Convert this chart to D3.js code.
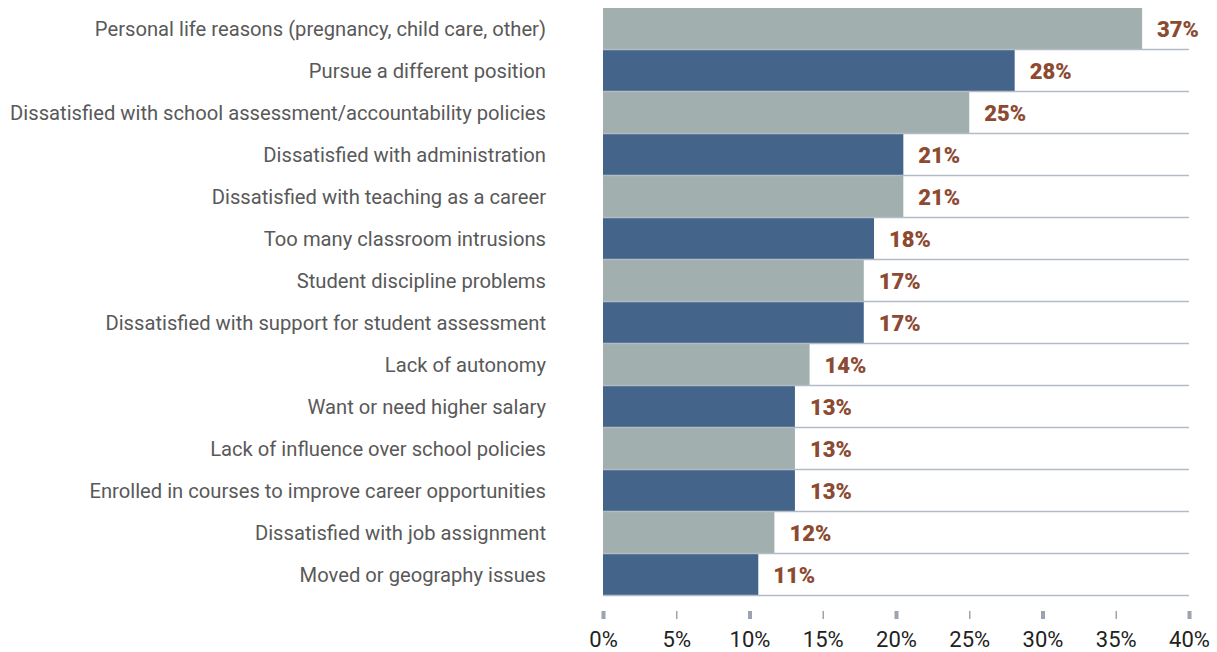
<!DOCTYPE html>
<html>
<head>
<meta charset="utf-8">
<script src="https://cdn.jsdelivr.net/npm/d3@7"></script>
<style>
  body { margin: 0; background: #fff; }
  .cat-label { font-family: Roboto, "Liberation Sans", sans-serif; font-size: 20.2px; fill: #595959; }
  .val-label { font-family: Roboto, "Liberation Sans", sans-serif; font-size: 22px; font-weight: 900; fill: #8c4a33; }
  .x-axis text { font-family: Roboto, "Liberation Sans", sans-serif; font-size: 22px; fill: #222; }
</style>
</head>
<body>
<div id="chart"></div>
<script>
// reasons for leaving, top to bottom
const categories = [
  "Personal life reasons (pregnancy, child care, other)",
  "Pursue a different position",
  "Dissatisfied with school assessment/accountability policies",
  "Dissatisfied with administration",
  "Dissatisfied with teaching as a career",
  "Too many classroom intrusions",
  "Student discipline problems",
  "Dissatisfied with support for student assessment",
  "Lack of autonomy",
  "Want or need higher salary",
  "Lack of influence over school policies",
  "Enrolled in courses to improve career opportunities",
  "Dissatisfied with job assignment",
  "Moved or geography issues"
];
// bar lengths (percent) as drawn
const values = [36.8, 28.1, 25.0, 20.5, 20.5, 18.5, 17.8, 17.8, 14.1, 13.1, 13.1, 13.1, 11.7, 10.6];
// printed labels
const valueLabels = ["37%", "28%", "25%", "21%", "21%", "18%", "17%", "17%", "14%", "13%", "13%", "13%", "12%", "11%"];
const tickValues = [0, 5, 10, 15, 20, 25, 30, 35, 40];

const width = 1217, height = 652;
const margin = {top: 8, left: 603, right: 28};
const plotBottom = 596;

const svg = d3.select("#chart").append("svg")
  .attr("width", width)
  .attr("height", height);

const x = d3.scaleLinear().domain([0, 40]).range([margin.left, width - margin.right]);
const y = d3.scaleBand().domain(categories).range([margin.top, plotBottom]).padding(0);

// bars, alternating grey / blue
svg.append("g").selectAll("rect")
  .data(categories)
  .join("rect")
    .attr("x", x(0))
    .attr("y", d => y(d))
    .attr("width", (d, i) => x(values[i]) - x(0))
    .attr("height", y.bandwidth())
    .attr("fill", (d, i) => i % 2 === 0 ? "#a1afaf" : "#44648a");

// row separators
svg.append("g").selectAll("line")
  .data(categories)
  .join("line")
    .attr("x1", x(0))
    .attr("x2", x(40))
    .attr("y1", d => y(d) + y.bandwidth() - 0.5)
    .attr("y2", d => y(d) + y.bandwidth() - 0.5)
    .attr("stroke", "#b3bcc6")
    .attr("stroke-width", 1.5);

// category labels
svg.append("g").selectAll("text")
  .data(categories)
  .join("text")
    .attr("class", "cat-label")
    .attr("x", 546)
    .attr("y", d => y(d) + y.bandwidth() / 2)
    .attr("dy", "0.35em")
    .attr("text-anchor", "end")
    .text(d => d);

// value labels
svg.append("g").selectAll("text")
  .data(categories)
  .join("text")
    .attr("class", "val-label")
    .attr("x", (d, i) => x(values[i]) + 15)
    .attr("y", d => y(d) + y.bandwidth() / 2)
    .attr("dy", "0.36em")
    .text((d, i) => valueLabels[i]);

// x axis
const xAxis = d3.axisBottom(x)
  .tickValues(tickValues)
  .tickSize(8)
  .tickPadding(12)
  .tickFormat(d => d + "%");

const xAxisG = svg.append("g")
  .attr("class", "x-axis")
  .attr("transform", `translate(0,611)`)
  .call(xAxis);

xAxisG.select(".domain").remove();
xAxisG.selectAll(".tick line")
  .attr("stroke", "#9ba4af")
  .attr("stroke-width", d => d % 10 === 0 ? 4 : 1.5);
</script>
</body>
</html>
